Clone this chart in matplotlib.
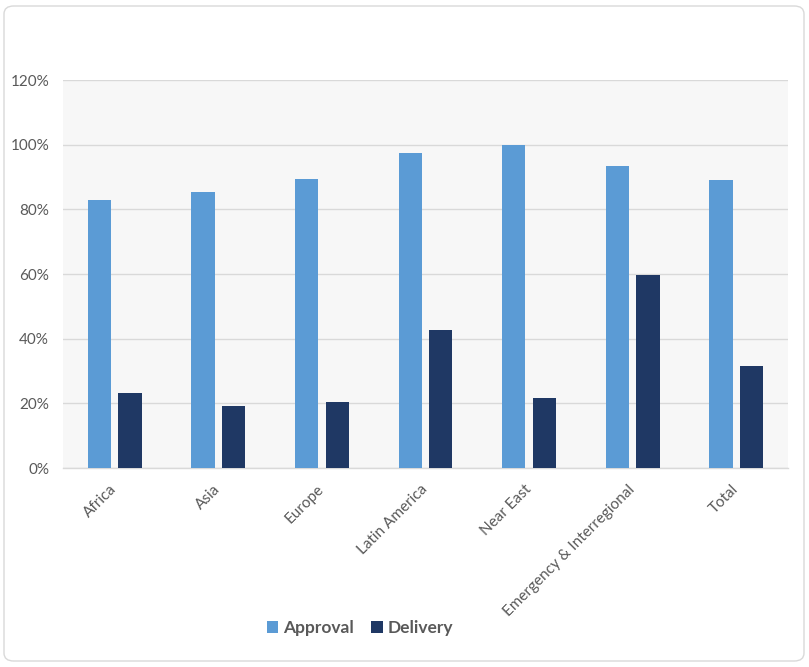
import matplotlib
matplotlib.use('Agg')
import matplotlib.pyplot as plt
import numpy as np
from matplotlib.patches import FancyBboxPatch
from matplotlib.ticker import FuncFormatter

plt.rcParams['font.family'] = ['Lato', 'DejaVu Sans']

categories = ['Africa', 'Asia', 'Europe', 'Latin America', 'Near East',
              'Emergency & Interregional', 'Total']
approval = [83, 85.5, 89.5, 97.5, 100, 93.5, 89.2]
delivery = [23.2, 19.2, 20.5, 42.7, 21.8, 59.7, 31.6]

c_approval = '#5b9bd5'
c_delivery = '#1f3864'
text_col = '#595959'

fig = plt.figure(figsize=(8.09, 6.67), dpi=100)
fig.patch.set_facecolor('white')

# rounded frame around the whole chart
frame = FancyBboxPatch((4 / 809, 6 / 667), 800 / 809, 655 / 667,
                       boxstyle='round,pad=0,rounding_size=0.012',
                       transform=fig.transFigure, facecolor='none',
                       edgecolor='#d9d9d9', linewidth=1.0)
fig.patches.append(frame)

ax = fig.add_axes([63 / 809, 1 - 468 / 667, 725 / 809, 388 / 667])
ax.set_facecolor('#f7f7f7')

x = np.arange(len(categories))
w = 0.225
off = 0.148
ax.bar(x - off, approval, w, color=c_approval, label='Approval', zorder=3)
ax.bar(x + off, delivery, w, color=c_delivery, label='Delivery', zorder=3)

ax.set_xlim(-0.5, len(categories) - 0.5)
ax.set_ylim(0, 120)
ax.set_yticks(np.arange(0, 121, 20))
ax.yaxis.set_major_formatter(FuncFormatter(lambda v, p: f'{v:.0f}%'))
ax.grid(axis='y', color='#d9d9d9', linewidth=1.0, zorder=0)
ax.set_axisbelow(True)

for s in ['top', 'right', 'left']:
    ax.spines[s].set_visible(False)
ax.spines['bottom'].set_color('#d9d9d9')
ax.spines['bottom'].set_linewidth(1.0)

ax.tick_params(axis='both', length=0, colors=text_col, labelsize=11)
ax.tick_params(axis='y', pad=10)
ax.set_xticks(x)
ax.set_xticklabels(categories, rotation=45, ha='right', va='center',
                   rotation_mode='anchor')
ax.tick_params(axis='x', pad=14)

leg = fig.legend(loc='center', bbox_to_anchor=(360 / 809, 1 - 628 / 667),
                 ncol=2, frameon=False, handlelength=0.65, handleheight=0.65,
                 handletextpad=0.3, columnspacing=1.0,
                 prop={'size': 12.5, 'weight': 'bold'})
for t in leg.get_texts():
    t.set_color(text_col)

fig.savefig('out.png', dpi=100, facecolor='white')
